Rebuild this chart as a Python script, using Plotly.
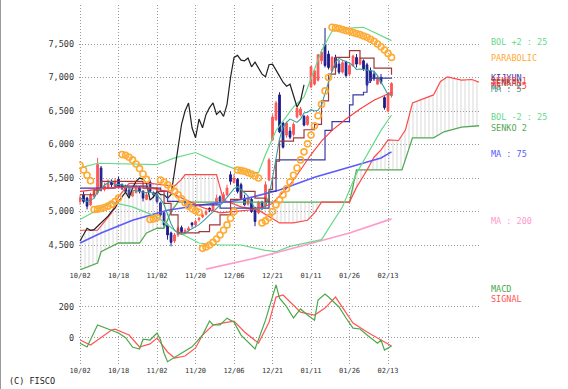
import plotly.graph_objects as go

# ---------------- data ----------------
tick_idx = [0, 11, 22, 33, 44, 55, 66, 77, 88]
tick_labels = ["10/02", "10/18", "11/02", "11/20", "12/06", "12/21", "01/11", "01/26", "02/13"]

bar_idx = list(range(90))
opens = [5150, 5250, 5200, 5100, 5220, 5280, 5650, 5330, 5350, 5450,
         5380, 5480, 5400, 5370, 5320, 5230, 5280, 5360, 5300, 5180,
         5440, 5280, 5250, 5130, 4980, 4800, 4680, 4560, 4650, 4760,
         4690, 4720, 4830, 4800, 4880, 4920, 4960, 5050, 5030, 5120,
         5220, 5150, 5250, 5550, 5430, 5480, 5400, 5200, 5110, 5180,
         5050, 4980, 5140, 5080, 5470, 6070, 6370, 6740, 6320, 6140,
         6200, 6150, 6410, 6440, 6420, 6300, 6860, 6900, 6960, 7250,
         7500, 7350, 7100, 7300, 7200, 7080, 7230, 7050, 7180, 7300,
         7200, 7250, 7190, 7100, 7050, 6900, 7000, 6700, 6500, 6730]
highs = [5250, 5300, 5220, 5280, 5330, 5800, 5680, 5430, 5480, 5480,
         5500, 5520, 5420, 5400, 5350, 5340, 5400, 5380, 5320, 5290,
         5470, 5300, 5280, 5150, 5000, 4820, 4700, 4680, 4780, 4790,
         4750, 4780, 4840, 4880, 4920, 4980, 5030, 5060, 5130, 5250,
         5240, 5290, 5400, 5600, 5560, 5500, 5430, 5250, 5230, 5200,
         5070, 5160, 5160, 5450, 5800, 6450, 6650, 6780, 6340, 6340,
         6260, 6330, 6560, 6560, 6440, 6440, 7170, 7110, 7350, 7420,
         7740, 7400, 7320, 7340, 7260, 7250, 7250, 7200, 7340, 7350,
         7300, 7270, 7220, 7150, 7100, 7030, 7050, 6720, 6780, 6930]
lows = [5100, 5120, 5030, 5080, 5200, 5250, 5300, 5300, 5330, 5360,
        5370, 5360, 5320, 5270, 5200, 5220, 5270, 5270, 5150, 5170,
        5280, 5200, 5120, 4920, 4760, 4580, 4480, 4530, 4620, 4680,
        4660, 4700, 4760, 4780, 4850, 4900, 4940, 4990, 5010, 5100,
        5120, 5130, 5230, 5400, 5420, 5270, 5180, 5080, 5090, 4980,
        4780, 4960, 5020, 5060, 5450, 6050, 6350, 6170, 5940, 6100,
        6080, 6120, 6390, 6420, 6270, 6280, 6840, 6880, 6940, 7200,
        7150, 7120, 7080, 7120, 7050, 7060, 7000, 7020, 7160, 7150,
        7180, 7100, 6870, 6920, 6950, 6900, 6900, 6520, 6480, 6700]
closes = [5200, 5150, 5080, 5250, 5300, 5700, 5350, 5380, 5420, 5400,
          5450, 5380, 5350, 5300, 5250, 5300, 5350, 5300, 5200, 5250,
          5300, 5250, 5150, 4950, 4800, 4650, 4540, 4650, 4750, 4700,
          4720, 4750, 4800, 4850, 4900, 4950, 5000, 5020, 5100, 5200,
          5150, 5250, 5350, 5450, 5500, 5300, 5200, 5100, 5200, 5000,
          4850, 5140, 5050, 5400, 5770, 6410, 6620, 6190, 5960, 6320,
          6110, 6300, 6540, 6530, 6290, 6420, 7160, 7100, 7340, 7380,
          7180, 7150, 7300, 7150, 7080, 7220, 7030, 7180, 7320, 7200,
          7280, 7130, 6890, 6950, 6980, 6980, 6930, 6550, 6750, 6910]

ma5 = [5200, 5180, 5150, 5170, 5196, 5296, 5336, 5396, 5430, 5450,
       5400, 5406, 5400, 5376, 5346, 5316, 5310, 5300, 5280, 5280,
       5290, 5270, 5240, 5190, 5100, 4960, 4818, 4718, 4678, 4658,
       4672, 4714, 4744, 4764, 4804, 4850, 4900, 4944, 4994, 5054,
       5094, 5144, 5210, 5280, 5340, 5370, 5330, 5280, 5230, 5130,
       5040, 5050, 5040, 5080, 5240, 5500, 5770, 6080, 6260, 6330,
       6380, 6350, 6330, 6380, 6470, 6480, 6520, 6500, 6510, 6590,
       6760, 6926, 7098, 7228, 7286, 7258, 7238, 7216, 7176, 7120,
       7126, 7120, 7114, 7108, 7092, 7028, 6932, 6820, 6746, 6738]

ma25_idx = [0, 10, 20, 25, 30, 35, 40, 45, 50, 55, 60, 63, 66, 69, 72, 76, 80, 84, 89]
ma25_val = [5300, 5360, 5350, 5300, 5180, 5060, 4980, 5000, 5030, 5120, 5400, 5620,
            5850, 6050, 6210, 6380, 6530, 6660, 6780]

ma75_idx = [0, 6, 15, 25, 35, 43, 48, 57, 67, 77, 86, 89]
ma75_val = [4530, 4680, 4870, 5020, 5100, 5150, 5200, 5320, 5510, 5660, 5800, 5890]

ma200_idx = [36, 49, 63, 77, 89]
ma200_val = [4140, 4290, 4480, 4680, 4890]

bol_up_idx = [0, 5, 22, 27, 33, 39, 44, 48, 51, 53, 56, 61, 64, 67, 69, 72, 78, 81, 85, 89]
bol_up_val = [5650, 5720, 5700, 5800, 5880, 5740, 5640, 5590, 5580, 5850, 6210, 6560,
              6710, 7110, 7400, 7690, 7740, 7750, 7650, 7550]
bol_dn_idx = [0, 9, 15, 22, 27, 34, 40, 46, 53, 56, 60, 69, 75, 79, 86, 89]
bol_dn_val = [4880, 5140, 5070, 4920, 4720, 4530, 4500, 4500, 4420, 4400, 4480, 4580,
              5070, 5570, 6210, 6440]

sar_val = [5690, 5620, 5540, 5460,
           5030, 5035, 5045, 5060, 5080, 5110, 5150, 5200,
           5850, 5840, 5810, 5770, 5710, 5640, 5560, 5480,
           4880, 4890, 4910,
           5470, 5440, 5400, 5350, 5300, 5250, 5190, 5130, 5080, 5040, 5010, 4990,
           4450, 4470, 4500, 4540, 4590, 4650, 4720, 4800, 4900, 5000,
           5620, 5610, 5600, 5580, 5560, 5530, 5500,
           4830, 4860, 4910, 5000, 5100, 5170, 5250, 5340, 5440, 5540, 5650, 5770,
           5890, 6010, 6140, 6280, 6430, 6600, 6800, 7000,
           7750, 7740, 7730, 7715, 7700, 7690, 7670, 7655, 7640, 7620, 7600, 7570,
           7540, 7500, 7460, 7410, 7360, 7300]

tenkan_idx = [0, 4, 6, 14, 18, 22, 24, 26, 28, 34, 37, 40, 43, 46, 50, 53, 54, 55, 56,
              57, 61, 64, 67, 69, 71, 73, 77, 80, 84, 89]
tenkan_val = [5250, 5320, 5450, 5450, 5350, 5300, 5120, 4950, 4680, 4700, 4800, 4950,
              5180, 5300, 5200, 5150, 5330, 5500, 5750, 6050, 6100, 6220, 6300, 6650,
              7050, 7300, 7400, 7290, 7140, 7040]

kijun_idx = [0, 10, 19, 23, 25, 30, 40, 53, 54, 56, 69, 70, 72, 77, 78, 81, 82, 83, 89]
kijun_val = [5350, 5380, 5350, 5300, 5150, 5100, 5050, 5050, 5300, 5770, 5770, 6210,
             6340, 6590, 6740, 6780, 6930, 6990, 7000]

senko1_idx = [0, 5, 9, 11, 14, 20, 27, 29, 30, 39, 41, 46, 51, 57, 61, 65, 67, 69, 77,
              79, 82, 84, 86, 88, 91, 93, 95, 97, 101, 103, 105, 109, 112, 114]
senko1_val = [4720, 4720, 4980, 5220, 5420, 5420, 5380, 5480, 5550, 5550, 5170, 5070,
              5020, 4830, 4830, 4870, 4980, 5140, 5140, 5360, 5620, 5810, 5920, 6070,
              6060, 6220, 6620, 6660, 6740, 6940, 7010, 6960, 6970, 6930]
senko2_idx = [0, 5, 6, 11, 17, 19, 22, 24, 26, 28, 77, 79, 92, 95, 101, 104, 109, 114]
senko2_val = [4130, 4230, 4400, 4530, 4530, 4680, 4750, 4750, 5000, 5140, 5140, 5620,
              5620, 6100, 6100, 6190, 6260, 6280]

chikou = [4560, 4650, 4750, 4720, 4730, 4780, 4830, 4880, 4930, 5000,
          5050, 5150, 5220, 5290, 5200, 5350, 5450, 5500, 5480, 5420,
          5170, 5220, 5300, 5250, 5250, 5200, 5250, 5600, 5950, 6300,
          6500, 6620, 6250, 6100, 6380, 6250, 6450, 6550, 6620, 6450,
          6500, 6420, 6600, 7000, 7300, 7330, 7260, 7250, 7290, 7160,
          7230, 7150, 7050, 7010, 7190, 7200, 7120, 7020, 6930, 6870,
          6900, 6720, 6560, 6650, 6890]

macd_idx = [0, 2, 5, 9, 11, 13, 15, 17, 18, 20, 22, 23, 24, 25, 27, 29, 32, 35, 37, 38,
            40, 42, 44, 46, 48, 50, 53, 56, 57, 59, 61, 63, 65, 67, 68, 70, 71, 74, 76, 78,
            80, 82, 85, 86, 87, 89]
macd_val = [-36, -60, 82, 50, 30, 0, -60, -73, -10, -15, 30, -15, -100, -155, -126, -98,
            -59, 17, 107, 82, 82, 126, 100, 17, -27, -73, 113, 340, 255, 200, 127, 185,
            146, 113, 243, 281, 262, 198, 127, 62, 56, 17, -35, -15, -80, -54]
sig_idx = [0, 3, 9, 10, 14, 17, 20, 22, 25, 27, 30, 33, 35, 38, 41, 44, 47, 51, 54, 56,
           58, 60, 63, 67, 70, 73, 75, 78, 82, 86, 89]
sig_val = [-15, -47, 50, 55, 17, -60, -40, -2, -92, -131, -118, -66, 17, 82, 95, 107, 37,
           -35, 100, 262, 275, 230, 165, 146, 191, 262, 198, 94, 36, -15, -54]

price_ticks = [4500, 5000, 5500, 6000, 6500, 7000, 7500]
macd_ticks = [0, 200]

# ---------------- styling ----------------
MONO = "DejaVu Sans Mono"
C_BOL = "#66d98a"
C_SAR = "#ffaa33"
C_S1 = "#ff4a4a"
C_S2 = "#55a855"
C_MA75 = "#5a5aff"
C_MA200 = "#ff9acb"
C_KIJUN = "#3a3aa8"
C_TENKAN = "#9c3a3a"
C_MA25 = "#ff3a3a"
C_MA5 = "#3a9c9c"
C_UP = "#ff5555"
C_DN = "#1c1c8c"

fig = go.Figure()

def line(x, y, color, width=1.0, shape="linear", xa="x", ya="y", **kw):
    fig.add_trace(go.Scatter(x=x, y=y, mode="lines", xaxis=xa, yaxis=ya,
                             line=dict(color=color, width=width, shape=shape),
                             hoverinfo="skip", **kw))

# cloud
line(senko2_idx, senko2_val, C_S2, 1.3, shape="linear")
fig.add_trace(go.Scatter(x=senko1_idx, y=senko1_val, mode="lines",
                         line=dict(color=C_S1, width=1.2), fill="tonexty",
                         fillcolor="rgba(255,255,255,0)",
                         fillpattern=dict(shape="|", fgcolor="#b4b4b4", bgcolor="rgba(255,255,255,0)",
                                          size=4, solidity=0.25),
                         hoverinfo="skip"))

line(ma200_idx, ma200_val, C_MA200, 1.6)
line(ma75_idx, ma75_val, C_MA75, 1.6)
line(bol_up_idx, bol_up_val, C_BOL, 1.2)
line(bol_dn_idx, bol_dn_val, C_BOL, 1.2)
line(list(range(len(chikou))), chikou, "#222222", 1.2)

fig.add_trace(go.Candlestick(x=bar_idx, open=opens, high=highs, low=lows, close=closes,
                             increasing=dict(line=dict(color=C_UP, width=1), fillcolor=C_UP),
                             decreasing=dict(line=dict(color=C_DN, width=1), fillcolor=C_DN),
                             whiskerwidth=0, hoverinfo="skip"))

line(kijun_idx, kijun_val, C_KIJUN, 1.2, shape="hv")
line(tenkan_idx, tenkan_val, C_TENKAN, 1.2, shape="hv")
line(ma25_idx, ma25_val, C_MA25, 1.1)
line(bar_idx, ma5, C_MA5, 1.1)

fig.add_trace(go.Scatter(x=bar_idx, y=sar_val, mode="markers",
                         marker=dict(symbol="circle-open", size=6, color=C_SAR,
                                     line=dict(width=1.6, color=C_SAR)),
                         hoverinfo="skip"))

# MACD panel
line(sig_idx, sig_val, "#ff5555", 1.2, xa="x2", ya="y2")
line(macd_idx, macd_val, "#4aa84a", 1.2, xa="x2", ya="y2")

# ---------------- layout ----------------
W, H = 568, 389
L, R, T, B = 79, 89, 5, 24
PH = H - T - B
PW = W - L - R

def py(p):
    return (H - B - p) / PH

def px(p):
    return (p - L) / PW

grid = dict(showgrid=True, gridcolor="#9a9a9a", griddash="1px,2px", gridwidth=1,
            zeroline=False, showline=False, ticks="")

xcommon = dict(range=[-0.3, 114.0], tickmode="array", tickvals=tick_idx, ticktext=tick_labels,
               tickfont=dict(family=MONO, size=7, color="#333333"), **grid)

fig.update_layout(
    width=W, height=H, margin=dict(l=L, r=R, t=T, b=B),
    paper_bgcolor="white", plot_bgcolor="white", showlegend=False,
    xaxis=dict(domain=[0, 1], anchor="y", rangeslider=dict(visible=False), **xcommon),
    xaxis2=dict(domain=[0, 1], anchor="y2", matches="x", **xcommon),
    yaxis=dict(domain=[py(270), 1], range=[4127, 8082], tickmode="array",
               tickvals=price_ticks, ticktext=[f"{v:,}" for v in price_ticks],
               tickfont=dict(family=MONO, size=8.5, color="#333333"),
               ticklabelstandoff=4, **grid),
    yaxis2=dict(domain=[0, py(282)], range=[-176, 359], tickmode="array",
                tickvals=macd_ticks, ticktext=[str(v) for v in macd_ticks],
                tickfont=dict(family=MONO, size=8.5, color="#333333"),
                ticklabelstandoff=4, **grid),
)

labels = [
    ("BOL +2 : 25", C_BOL, 42), ("PARABOLIC", C_SAR, 58),
    ("KIJYUN", C_KIJUN, 78), ("SENKO 1", C_S1, 81), ("TENKAN", C_TENKAN, 83),
    ("MA : 25", C_MA25, 86), ("MA : 5", C_MA5, 89),
    ("BOL -2 : 25", C_BOL, 117), ("SENKO 2", C_S2, 128),
    ("MA : 75", C_MA75, 154), ("MA : 200", C_MA200, 221),
    ("MACD", "#4aa84a", 289), ("SIGNAL", "#ff5555", 299),
]
for text, col, ypix in labels:
    fig.add_annotation(x=px(489), y=py(ypix), xref="paper", yref="paper", text=text,
                       showarrow=False, xanchor="left", yanchor="middle",
                       font=dict(family=MONO, size=8.5, color=col))

fig.add_annotation(x=px(7), y=py(381), xref="paper", yref="paper", text="(C) FISCO",
                   showarrow=False, xanchor="left", yanchor="middle",
                   font=dict(family=MONO, size=8.5, color="#222222"))

fig.add_shape(type="line", xref="paper", yref="paper", x0=px(0.5), x1=px(0.5),
              y0=py(0), y1=py(389), line=dict(color="#9a9a9a", width=1))

fig.write_html("out.html", config={"displayModeBar": False},
               post_script="document.body.style.margin='0px';")
